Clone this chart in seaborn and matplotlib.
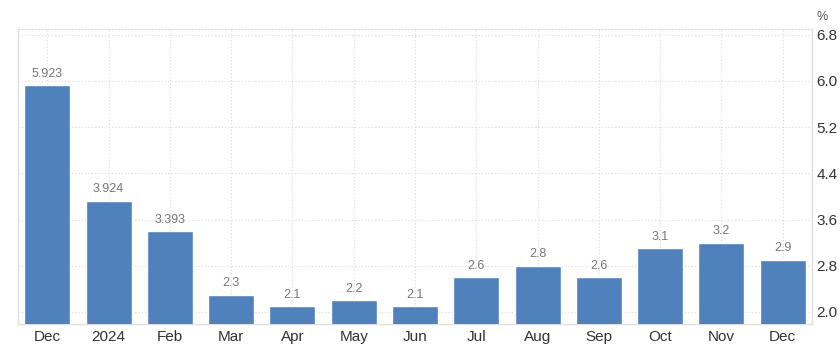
import pandas as pd
import seaborn as sns
import matplotlib.pyplot as plt

# Dados
meses = ['Dec', '2024', 'Feb', 'Mar', 'Apr', 'May', 'Jun', 'Jul', 'Aug', 'Sep', 'Oct', 'Nov', 'Dec ']
valores = [5.923, 3.924, 3.393, 2.3, 2.1, 2.2, 2.1, 2.6, 2.8, 2.6, 3.1, 3.2, 2.9]
rotulos = ['5.923', '3.924', '3.393', '2.3', '2.1', '2.2', '2.1', '2.6', '2.8', '2.6', '3.1', '3.2', '2.9']
yticks = [2.0, 2.8, 3.6, 4.4, 5.2, 6.0, 6.8]

df = pd.DataFrame({'Mes': meses, 'Valor': valores})

sns.set_style('white')
plt.rcParams['font.family'] = ['Liberation Sans', 'DejaVu Sans']

fig = plt.figure(figsize=(8.4, 3.52), dpi=100)
ax = fig.add_axes([0.0214, 0.0795, 0.9453, 0.8381])

sns.barplot(data=df, x='Mes', y='Valor', color='#4f81bd', saturation=1, width=0.75, ax=ax, zorder=3)

ax.bar_label(ax.containers[0], labels=rotulos, padding=4, fontsize=9, color='#777777')

ax.set_ylim(1.79, 6.90)
ax.set_xlim(-0.48, 12.48)
ax.set_yticks(yticks)
ax.set_yticklabels([f'{v:.1f}' for v in yticks])
ax.yaxis.tick_right()
ax.set_xlabel('')
ax.set_ylabel('')
ax.set_xticks(range(len(meses)))
ax.set_xticklabels([m.strip() for m in meses])
ax.tick_params(axis='both', length=0, labelsize=11, labelcolor='#333333')
ax.tick_params(axis='y', pad=3)
ax.tick_params(axis='x', pad=4)

ax.grid(True, axis='both', linestyle=(0, (1, 2)), color='#d9d9d9', linewidth=0.8, zorder=0)

for s in ['left', 'right', 'bottom']:
    ax.spines[s].set_color('#e0e0e0')
    ax.spines[s].set_linewidth(1)
ax.spines['top'].set_linestyle((0, (1, 2)))
ax.spines['top'].set_color('#d9d9d9')
ax.spines['top'].set_linewidth(0.8)

fig.text(0.985, 0.97, '%', ha='right', va='top', fontsize=9, color='#555555')

plt.savefig('out.png', dpi=100)
